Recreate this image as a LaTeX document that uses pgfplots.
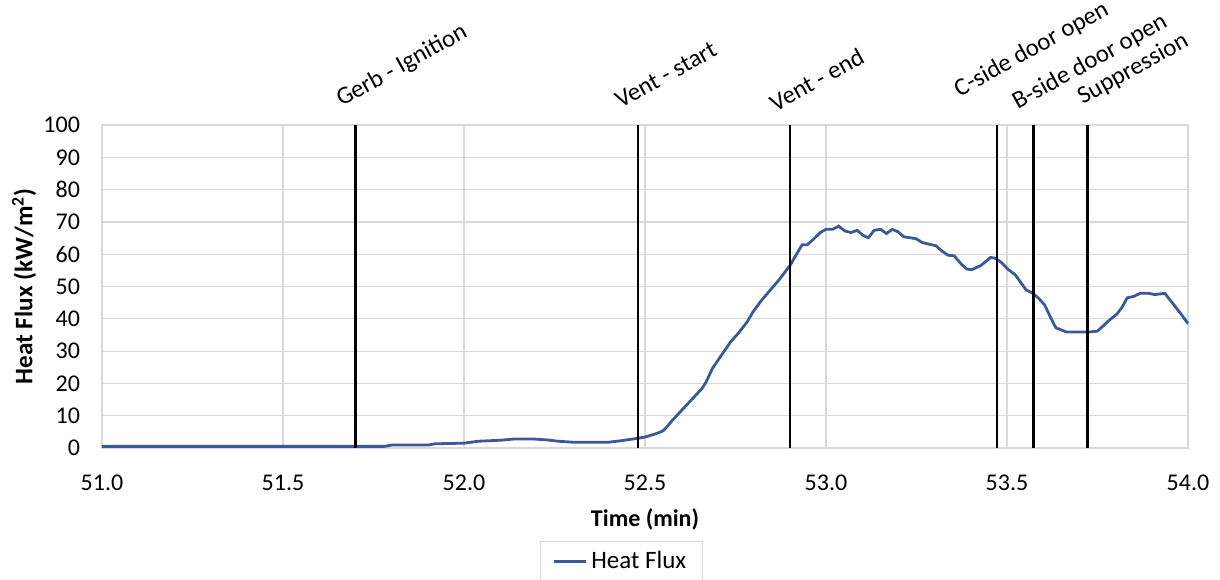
\documentclass[border=0pt]{standalone}
\usepackage{fontspec}
\setmainfont{Carlito}
\usepackage{pgfplots}
\pgfplotsset{compat=1.18}
\usetikzlibrary{calc}
\definecolor{gridgray}{RGB}{217,217,217}
\definecolor{fluxblue}{RGB}{59,89,152}
\newcommand\fs{\fontsize{12}{14.4}\selectfont}
\newcommand\fl{\fontsize{12.4}{14.8}\selectfont}

\pgfplotstableread{
x y
51.00 0.5
51.50 0.5
51.78 0.5
51.80 0.9
51.90 0.9
51.92 1.3
52.00 1.5
52.04 2.1
52.10 2.4
52.14 2.8
52.19 2.8
52.23 2.5
52.26 2.1
52.30 1.8
52.40 1.8
52.43 2.2
52.48 3.0
52.50 3.4
52.53 4.4
52.55 5.3
52.56 6.5
52.575 8.5
52.59 10.3
52.624 14.4
52.658 18.5
52.669 20.5
52.686 24.6
52.708 28.2
52.736 32.8
52.759 35.7
52.782 39.0
52.798 42.1
52.821 45.6
52.843 48.5
52.872 52.3
52.901 56.6
52.917 59.7
52.934 62.9
52.948 62.9
52.967 64.8
52.984 66.7
53.000 67.7
53.018 67.7
53.035 68.7
53.052 67.2
53.069 66.7
53.086 67.4
53.103 65.8
53.117 65.1
53.133 67.4
53.151 67.7
53.167 66.4
53.183 67.7
53.198 67.0
53.215 65.4
53.249 64.8
53.266 63.6
53.304 62.6
53.320 61.0
53.337 59.7
53.354 59.5
53.374 56.9
53.389 55.4
53.403 55.2
53.429 56.6
53.455 59.0
53.469 58.7
53.485 57.4
53.502 55.4
53.523 53.6
53.553 48.9
53.570 48.0
53.587 46.4
53.604 44.3
53.620 40.5
53.635 37.2
53.665 35.9
53.705 35.9
53.727 35.9
53.750 36.2
53.784 39.7
53.804 41.5
53.818 43.6
53.832 46.5
53.849 46.9
53.868 47.9
53.891 47.9
53.908 47.5
53.936 47.9
53.959 44.6
53.984 41.0
54.000 38.5
}\fluxdata

\begin{document}
\begin{tikzpicture}
\begin{axis}[
  at={(0,0)}, anchor=south west,
  width=543pt, height=161.5pt, scale only axis,
  xmin=51, xmax=54, ymin=0, ymax=100,
  xtick={51,51.5,...,54}, ytick={0,10,...,100},
  /pgf/number format/assume math mode=true,
  tick label style={font=\fs},
  xticklabel style={/pgf/number format/fixed, /pgf/number format/fixed zerofill, /pgf/number format/precision=1, yshift=-10pt},
  yticklabel style={xshift=-7.5pt},
  major tick length=0pt,
  grid=major,
  major grid style={draw=gridgray, line width=0.6pt},
  axis line style={draw=gridgray, line width=0.6pt},
  xlabel={\textbf{Time (min)}},
  xlabel style={at={(axis description cs:0.5,0)}, anchor=base, yshift=-39.3pt, font=\fs},
  ylabel={\textbf{Heat Flux (kW/m\textsuperscript{2})}},
  ylabel style={at={(axis description cs:-0.0718,0.5)}, anchor=center, font=\fontsize{12.6}{15}\selectfont},
  legend style={at={(axis description cs:0.4033,-0.287)}, anchor=north west,
    draw=gridgray, line width=0.6pt, font=\fontsize{12.5}{15}\selectfont, inner xsep=6pt, inner ysep=3pt},
  legend image code/.code={\draw[#1, line width=1.4pt] (0pt,0pt) -- (16pt,0pt);},
  clip=false,
]
\addplot[fluxblue, line width=1.4pt] table[x=x,y=y]{\fluxdata};
\addlegendentry{Heat Flux}

\addplot[black, line width=1.3pt, forget plot] coordinates {(51.700,0) (51.700,100)};
\addplot[black, line width=1.3pt, forget plot] coordinates {(52.481,0) (52.481,100)};
\addplot[black, line width=1.3pt, forget plot] coordinates {(52.901,0) (52.901,100)};
\addplot[black, line width=1.3pt, forget plot] coordinates {(53.472,0) (53.472,100)};
\addplot[black, line width=1.3pt, forget plot] coordinates {(53.573,0) (53.573,100)};
\addplot[black, line width=1.3pt, forget plot] coordinates {(53.722,0) (53.722,100)};

\node[rotate=29, anchor=base west, inner sep=0pt, font=\fl] at ($(axis cs:51.700,100)+(-7pt,9pt)$) {Gerb - Ignition};
\node[rotate=29, anchor=base west, inner sep=0pt, font=\fl] at ($(axis cs:52.481,100)+(-8.8pt,8pt)$) {Vent - start};
\node[rotate=29, anchor=base west, inner sep=0pt, font=\fl] at ($(axis cs:52.901,100)+(-7.5pt,6.3pt)$) {Vent - end};
\node[rotate=29, anchor=base west, inner sep=0pt, font=\fl] at ($(axis cs:53.472,100)+(-18.8pt,13.8pt)$) {C-side door open};
\node[rotate=29, anchor=base west, inner sep=0pt, font=\fl] at ($(axis cs:53.573,100)+(-8pt,7.5pt)$) {B-side door open};
\node[rotate=29, anchor=base west, inner sep=0pt, font=\fl] at ($(axis cs:53.722,100)+(-2.4pt,10pt)$) {Suppression};
\end{axis}
\pgfresetboundingbox
\useasboundingbox (-51pt,-65.5pt) rectangle (559pt,224pt);
\end{tikzpicture}
\end{document}
